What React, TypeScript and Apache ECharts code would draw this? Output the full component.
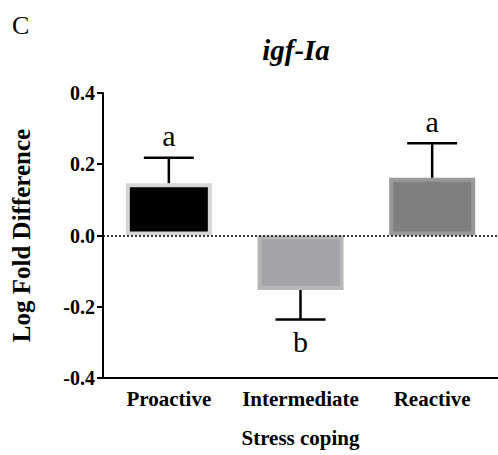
import React, { useEffect, useRef } from "react";
import * as echarts from "echarts";

const categories = ["Proactive", "Intermediate", "Reactive"];
const means = [0.147, -0.153, 0.162];
const errors = [0.071, 0.083, 0.097];
const letters = ["a", "b", "a"];
const fills = ["#000000", "#a3a3a8", "#7f7f7f"];
const borders = ["#d6d6d6", "#b6b6b6", "#999999"];
const yTicks = { min: -0.4, max: 0.4, interval: 0.2 };

const SERIF = "'Liberation Serif', 'Times New Roman', serif";

export default function App() {
  const ref = useRef<HTMLDivElement>(null);
  useEffect(() => {
    const chart = echarts.init(ref.current!, null, { renderer: "svg" });
    chart.setOption({
      animation: false,
      backgroundColor: "#ffffff",
      grid: { left: 103, right: 0, top: 93, bottom: 77 },
      graphic: [
        {
          type: "text",
          left: 12,
          top: 12,
          style: { text: "C", font: `26px ${SERIF}`, fill: "#000" },
        },
        {
          type: "text",
          x: 296,
          y: 50,
          style: {
            text: "igf-Ia",
            font: `italic bold 29px ${SERIF}`,
            fill: "#000",
            align: "center",
            verticalAlign: "middle",
          },
        },
      ],
      xAxis: {
        type: "category",
        data: categories,
        position: "bottom",
        axisLine: { onZero: false, lineStyle: { color: "#000", width: 2 } },
        axisTick: { alignWithLabel: true, length: 6, lineStyle: { color: "#000", width: 2 } },
        axisLabel: {
          interval: 0,
          color: "#000",
          fontFamily: SERIF,
          fontWeight: "bold",
          fontSize: 21,
          margin: 10,
        },
        name: "Stress coping",
        nameLocation: "middle",
        nameGap: 49,
        nameTextStyle: { color: "#000", fontFamily: SERIF, fontWeight: "bold", fontSize: 21 },
      },
      yAxis: {
        type: "value",
        min: yTicks.min,
        max: yTicks.max,
        interval: yTicks.interval,
        splitLine: { show: false },
        axisLine: { show: true, lineStyle: { color: "#000", width: 2 } },
        axisTick: { show: true, length: 6, lineStyle: { color: "#000", width: 2 } },
        axisLabel: {
          color: "#000",
          fontFamily: SERIF,
          fontWeight: "bold",
          fontSize: 20,
          margin: 8,
          formatter: (v: number) => v.toFixed(1),
        },
        name: "Log Fold Difference",
        nameLocation: "middle",
        nameGap: 69,
        nameRotate: 90,
        nameTextStyle: { color: "#000", fontFamily: SERIF, fontWeight: "bold", fontSize: 25 },
      },
      series: [
        {
          type: "bar",
          barWidth: 86,
          data: means.map((m, i) => ({
            value: m,
            itemStyle: { color: fills[i], borderColor: borders[i], borderWidth: 4 },
          })),
          z: 2,
        },
        {
          type: "custom",
          z: 5,
          data: means.map((m, i) => [i, m, errors[i]]),
          renderItem: (params: any, api: any) => {
            const i = api.value(0);
            const m = api.value(1);
            const e = api.value(2);
            const sign = m >= 0 ? 1 : -1;
            const base = api.coord([i, m]);
            const tip = api.coord([i, m + sign * e]);
            const half = 25;
            return {
              type: "group",
              children: [
                {
                  type: "line",
                  shape: { x1: base[0], y1: base[1], x2: tip[0], y2: tip[1] },
                  style: { stroke: "#000", lineWidth: 2.5 },
                },
                {
                  type: "line",
                  shape: { x1: tip[0] - half, y1: tip[1], x2: tip[0] + half, y2: tip[1] },
                  style: { stroke: "#000", lineWidth: 2.5 },
                },
                {
                  type: "text",
                  style: {
                    text: letters[params.dataIndex],
                    x: tip[0],
                    y: tip[1] + (sign > 0 ? -22 : 22),
                    font: `30px ${SERIF}`,
                    fill: "#000",
                    align: "center",
                    verticalAlign: "middle",
                  },
                },
              ],
            };
          },
          markLine: {
            silent: true,
            symbol: "none",
            label: { show: false },
            lineStyle: { color: "#000", width: 1.5, type: [2, 2] },
            data: [{ yAxis: 0 }],
          },
        },
      ],
    });
    return () => chart.dispose();
  }, []);
  return (
    <div
      ref={ref}
      style={{ position: "fixed", left: 0, top: 0, width: 498, height: 455 }}
    />
  );
}
